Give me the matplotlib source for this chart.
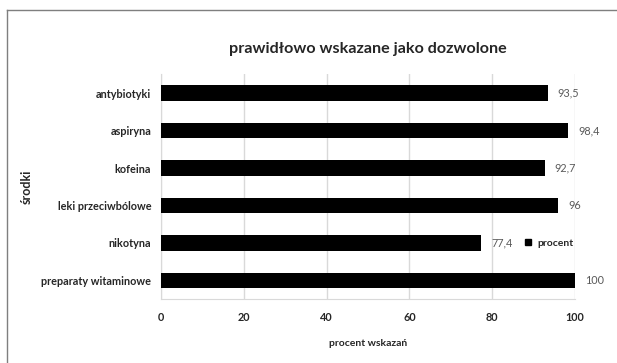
import matplotlib.pyplot as plt
from matplotlib.lines import Line2D

plt.rcParams['font.family'] = ['Lato', 'DejaVu Sans']

categories = ["antybiotyki", "aspiryna", "kofeina", "leki przeciwbólowe",
              "nikotyna", "preparaty witaminowe"]
values = [93.5, 98.4, 92.7, 96, 77.4, 100]
value_labels = ["93,5", "98,4", "92,7", "96", "77,4", "100"]
xticks = [0, 20, 40, 60, 80, 100]

fig = plt.figure(figsize=(6.17, 3.63), dpi=100)
ax = fig.add_axes([0.261, 0.176, 0.671, 0.619])

ypos = list(range(len(categories)))
ax.barh(ypos, values, height=0.42, color="black", label="procent", zorder=3)
ax.set_ylim(len(categories) - 0.5, -0.5)
ax.set_xlim(0, 100)
ax.set_yticks(ypos)
ax.set_yticklabels(categories, fontsize=7.8, fontweight="bold", color="#262626")
ax.set_xticks(xticks)
ax.set_xticklabels([str(t) for t in xticks], fontsize=7.8, fontweight="bold", color="#262626")
ax.tick_params(length=0, pad=7)
ax.tick_params(axis="x", pad=9)

ax.grid(axis="x", color="#d9d9d9", linewidth=1, zorder=0)
for s in ["top", "right"]:
    ax.spines[s].set_visible(False)
for s in ["left", "bottom"]:
    ax.spines[s].set_color("#d9d9d9")

for y, v, lab in zip(ypos, values, value_labels):
    ax.annotate(lab, (v, y), xytext=(7, 0), textcoords="offset points",
                va="center", ha="left", fontsize=7.8, color="#595959")

ax.set_xlabel("procent wskazań", fontsize=7.5, fontweight="bold", color="#262626", labelpad=12)
ax.set_ylabel("środki", fontsize=9, fontweight="bold", color="#262626")
ax.yaxis.set_label_coords(-0.31, 0.5)
fig.text(0.596, 0.866, "prawidłowo wskazane jako dozwolone", ha="center", va="center",
         fontsize=11.6, fontweight="bold", color="#262626")

ax.legend(handles=[Line2D([], [], marker="s", color="black", linestyle="none", markersize=4)],
          labels=["procent"], loc="center", bbox_to_anchor=(0.935, 0.25), frameon=False,
          handletextpad=0.4, handlelength=1.0, prop={"size": 7.5, "weight": "bold"},
          labelcolor="#262626")

# outer chart frame (left and top edges visible)
fig.add_artist(Line2D([7 / 617, 7 / 617], [0, 1 - 10 / 363], transform=fig.transFigure,
                      color="#7f7f7f", linewidth=1))
fig.add_artist(Line2D([7 / 617, 1], [1 - 10 / 363, 1 - 10 / 363], transform=fig.transFigure,
                      color="#7f7f7f", linewidth=1))

fig.savefig("out.png", dpi=100)
